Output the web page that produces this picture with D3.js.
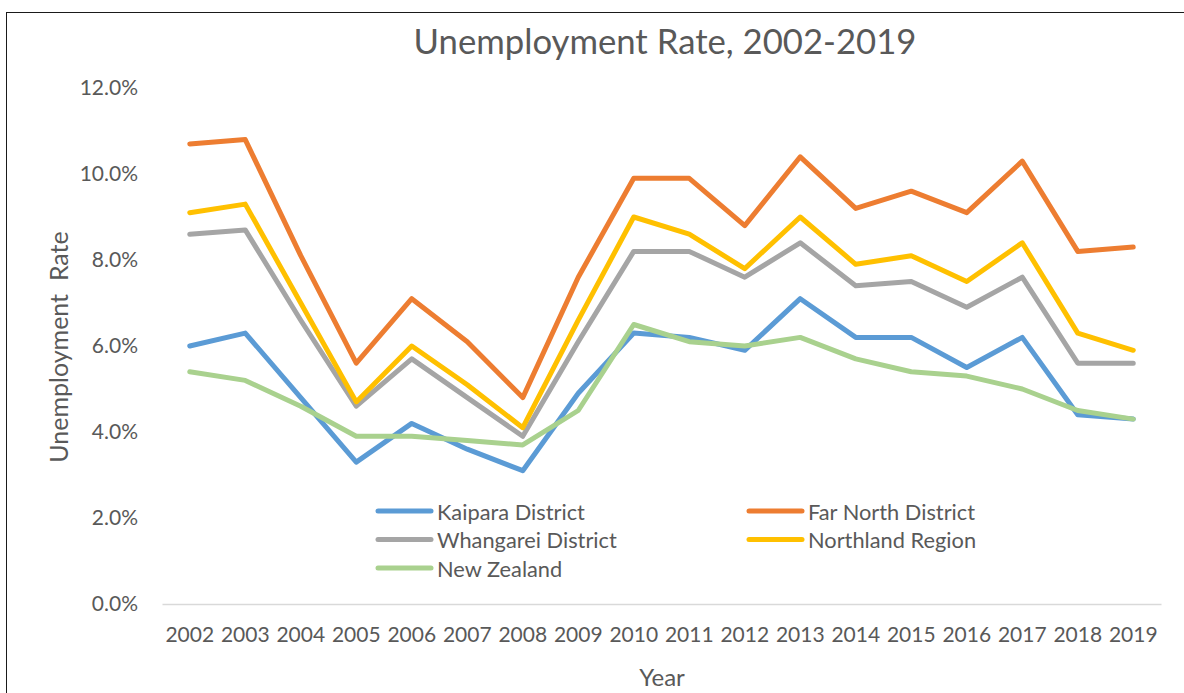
<!DOCTYPE html>
<html>
<head>
<meta charset="utf-8">
<script src="https://cdn.jsdelivr.net/npm/d3@7"></script>
<style>
  html, body { margin: 0; padding: 0; background: #fff; }
  svg { display: block; font-family: Lato, "Open Sans", sans-serif; }
</style>
</head>
<body>
<svg id="chart" width="1184" height="693"></svg>
<script>
const years = ["2002","2003","2004","2005","2006","2007","2008","2009","2010","2011","2012","2013","2014","2015","2016","2017","2018","2019"];
const kaipara   = [6.0, 6.3, 4.8, 3.3, 4.2, 3.6, 3.1, 4.9, 6.3, 6.2, 5.9, 7.1, 6.2, 6.2, 5.5, 6.2, 4.4, 4.3];
const farNorth  = [10.7, 10.8, 8.1, 5.6, 7.1, 6.1, 4.8, 7.6, 9.9, 9.9, 8.8, 10.4, 9.2, 9.6, 9.1, 10.3, 8.2, 8.3];
const whangarei = [8.6, 8.7, 6.6, 4.6, 5.7, 4.8, 3.9, 6.1, 8.2, 8.2, 7.6, 8.4, 7.4, 7.5, 6.9, 7.6, 5.6, 5.6];
const northland = [9.1, 9.3, 7.0, 4.7, 6.0, 5.1, 4.1, 6.6, 9.0, 8.6, 7.8, 9.0, 7.9, 8.1, 7.5, 8.4, 6.3, 5.9];
const newZealand = [5.4, 5.2, 4.6, 3.9, 3.9, 3.8, 3.7, 4.5, 6.5, 6.1, 6.0, 6.2, 5.7, 5.4, 5.3, 5.0, 4.5, 4.3];
const seriesNames = ["Kaipara District", "Far North District", "Whangarei District", "Northland Region", "New Zealand"];
const seriesColors = ["#5B9BD5", "#ED7D31", "#A5A5A5", "#FFC000", "#A9D18E"];
const yTicks = [0, 2, 4, 6, 8, 10, 12];
const titleText = "Unemployment Rate, 2002-2019";
const xTitle = "Year";
const yTitle = "Unemployment  Rate";

const seriesValues = [kaipara, farNorth, whangarei, northland, newZealand];
const series = seriesNames.map((name, i) => ({ name, color: seriesColors[i], values: seriesValues[i] }));

const svg = d3.select("#chart");
const textColor = "#595959";

// outer chart border (only left/top visible in frame)
svg.append("rect").attr("x", 6.5).attr("y", 12.5).attr("width", 1200).attr("height", 720)
  .attr("fill", "none").attr("stroke", "#1a1a1a").attr("stroke-width", 1);

const plot = { left: 162, right: 1161, top: 88, bottom: 604 };

const x = d3.scaleBand().domain(years).range([plot.left, plot.right]).padding(0);
const y = d3.scaleLinear().domain([0, 12]).range([plot.bottom, plot.top]);

// title
svg.append("text").attr("x", 665).attr("y", 40)
  .attr("text-anchor", "middle").attr("dominant-baseline", "central")
  .attr("fill", textColor).attr("font-size", 34.7).text(titleText);

// y axis
const yAxis = svg.append("g").attr("transform", `translate(${plot.left},0)`)
  .call(d3.axisLeft(y).tickValues(yTicks).tickSize(0).tickPadding(24)
    .tickFormat(d => d3.format(".1f")(d) + "%"));
yAxis.select(".domain").remove();
yAxis.selectAll("text").attr("fill", textColor).attr("font-size", 21).attr("font-family", "Lato, sans-serif");

// x axis
const xAxis = svg.append("g").attr("transform", `translate(0,${plot.bottom})`)
  .call(d3.axisBottom(x).tickSize(0).tickPadding(23));
xAxis.select(".domain").attr("stroke", "#D9D9D9").attr("stroke-width", 1.5);
xAxis.selectAll("text").attr("fill", textColor).attr("font-size", 21).attr("font-family", "Lato, sans-serif");

// axis titles
svg.append("text").attr("x", 662).attr("y", 676)
  .attr("text-anchor", "middle").attr("dominant-baseline", "central")
  .attr("fill", textColor).attr("font-size", 24).text(xTitle);

svg.append("text").attr("transform", "translate(58,347) rotate(-90)")
  .attr("text-anchor", "middle").attr("dominant-baseline", "central")
  .attr("fill", textColor).attr("font-size", 25)
  .style("white-space", "pre").attr("xml:space", "preserve").text(yTitle);

// lines
const line = d3.line()
  .x((d, i) => x(years[i]) + x.bandwidth() / 2)
  .y(d => y(d));

svg.append("g").selectAll("path").data(series).join("path")
  .attr("d", d => line(d.values))
  .attr("fill", "none")
  .attr("stroke", d => d.color)
  .attr("stroke-width", 5)
  .attr("stroke-linecap", "round")
  .attr("stroke-linejoin", "round");

// legend
const legendCols = [378, 749];
const legendRows = [511, 539.5, 568];
const legend = svg.append("g").selectAll("g").data(series).join("g")
  .attr("transform", (d, i) => `translate(${legendCols[i % 2]},${legendRows[Math.floor(i / 2)]})`);
legend.append("line").attr("x1", 0).attr("x2", 53).attr("y1", 0).attr("y2", 0)
  .attr("stroke", d => d.color).attr("stroke-width", 5).attr("stroke-linecap", "round");
legend.append("text").attr("x", 59).attr("y", 0).attr("dominant-baseline", "central")
  .attr("fill", textColor).attr("font-size", 21.8).text(d => d.name);
</script>
</body>
</html>
